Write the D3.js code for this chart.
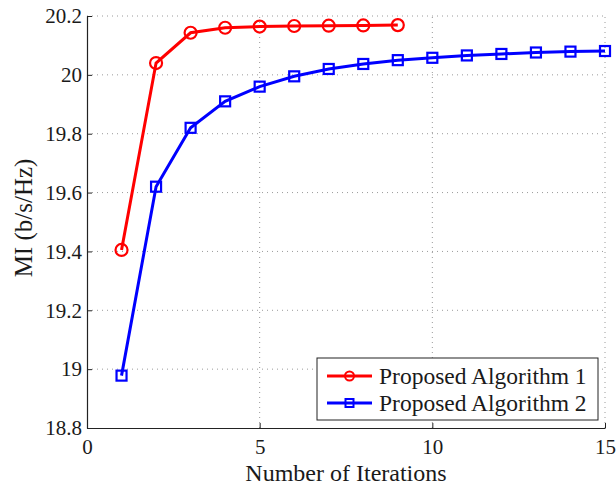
<!DOCTYPE html>
<html>
<head>
<meta charset="utf-8">
<script src="https://cdn.jsdelivr.net/npm/d3@7"></script>
<style>
  html, body { margin: 0; padding: 0; background: #fff; }
  svg { display: block; }
  text { font-family: "Liberation Serif", "Times New Roman", serif; fill: #1a1a1a; }
</style>
</head>
<body>
<svg id="chart" width="616" height="487"></svg>
<script>
// Mutual information per iteration for the two proposed algorithms
const iterations1 = [1, 2, 3, 4, 5, 6, 7, 8, 9];
const algorithm1 = [19.405, 20.04, 20.143, 20.16, 20.164, 20.166, 20.167, 20.168, 20.169];

const iterations2 = [1, 2, 3, 4, 5, 6, 7, 8, 9, 10, 11, 12, 13, 14, 15];
const algorithm2 = [18.978, 19.62, 19.82, 19.91, 19.96, 19.995, 20.02, 20.037, 20.05,
                    20.058, 20.066, 20.071, 20.076, 20.079, 20.081];

const xTicks = [0, 5, 10, 15];
const yTicks = [18.8, 19, 19.2, 19.4, 19.6, 19.8, 20, 20.2];
const seriesNames = ["Proposed Algorithm 1", "Proposed Algorithm 2"];
const seriesColors = ["#ff0000", "#0000ff"];

const svg = d3.select("#chart");
const margin = { left: 87, right: 11, top: 16, bottom: 59 };
const W = 616, H = 487;

const x = d3.scaleLinear().domain([0, 15]).range([margin.left, W - margin.right]);
const y = d3.scaleLinear().domain([18.8, 20.2]).range([H - margin.bottom, margin.top]);

// dotted grid
const grid = svg.append("g").attr("stroke", "#9a9a9a").attr("stroke-width", 1)
  .attr("stroke-dasharray", "1,4");
grid.selectAll(".gx").data(xTicks.filter(d => d > 0)).join("line")
  .attr("x1", d => x(d)).attr("x2", d => x(d))
  .attr("y1", y(18.8)).attr("y2", y(20.2));
grid.selectAll(".gy").data(yTicks.filter(d => d > 18.8)).join("line")
  .attr("x1", x(0)).attr("x2", x(15))
  .attr("y1", d => y(d)).attr("y2", d => y(d));

// axes
const xAxis = d3.axisBottom(x).tickValues(xTicks).tickFormat(d3.format("d"))
  .tickSizeInner(-5).tickSizeOuter(0).tickPadding(11);
const yAxis = d3.axisLeft(y).tickValues(yTicks).tickFormat(d => +d.toFixed(1))
  .tickSizeInner(-5).tickSizeOuter(0).tickPadding(5);

const gx = svg.append("g").attr("transform", `translate(0,${y(18.8)})`).call(xAxis);
const gy = svg.append("g").attr("transform", `translate(${x(0)},0)`).call(yAxis);
[gx, gy].forEach(g => {
  g.select(".domain").attr("stroke", "#222").attr("stroke-width", 1.2);
  g.selectAll(".tick line").attr("stroke", "#222");
  g.selectAll(".tick text").attr("font-size", 21).attr("fill", "#1a1a1a")
    .attr("font-family", "Liberation Serif, Times New Roman, serif");
});
gx.selectAll(".tick text").attr("dy", "0.71em");

// axis titles
svg.append("text").attr("x", (x(0) + x(15)) / 2).attr("y", 481)
  .attr("text-anchor", "middle").attr("font-size", 24).text("Number of Iterations");
svg.append("text").attr("transform", `translate(32,218) rotate(-90)`)
  .attr("text-anchor", "middle").attr("font-size", 25).text("MI (b/s/Hz)");

const line = d3.line().x(d => x(d[0])).y(d => y(d[1]));

// series 2 (squares)
const s2 = d3.zip(iterations2, algorithm2);
svg.append("path").datum(s2).attr("d", line).attr("fill", "none")
  .attr("stroke", seriesColors[1]).attr("stroke-width", 3);
svg.selectAll(".sq").data(s2).join("rect")
  .attr("x", d => x(d[0]) - 5).attr("y", d => y(d[1]) - 5)
  .attr("width", 10).attr("height", 10)
  .attr("fill", "none").attr("stroke", seriesColors[1]).attr("stroke-width", 2.2);

// series 1 (circles)
const s1 = d3.zip(iterations1, algorithm1);
svg.append("path").datum(s1).attr("d", line).attr("fill", "none")
  .attr("stroke", seriesColors[0]).attr("stroke-width", 3);
svg.selectAll(".ci").data(s1).join("circle")
  .attr("cx", d => x(d[0])).attr("cy", d => y(d[1])).attr("r", 6)
  .attr("fill", "none").attr("stroke", seriesColors[0]).attr("stroke-width", 2.2);

// legend
const lg = svg.append("g").attr("transform", "translate(317,358)");
lg.append("rect").attr("width", 281).attr("height", 62)
  .attr("fill", "#fff").attr("stroke", "#222").attr("stroke-width", 1);
seriesNames.forEach((name, i) => {
  const cy = 18 + i * 27;
  lg.append("line").attr("x1", 10).attr("x2", 55).attr("y1", cy).attr("y2", cy)
    .attr("stroke", seriesColors[i]).attr("stroke-width", 3);
  if (i === 0) {
    lg.append("circle").attr("cx", 32.5).attr("cy", cy).attr("r", 4.5)
      .attr("fill", "none").attr("stroke", seriesColors[i]).attr("stroke-width", 2);
  } else {
    lg.append("rect").attr("x", 28.5).attr("y", cy - 4).attr("width", 8).attr("height", 8)
      .attr("fill", "none").attr("stroke", seriesColors[i]).attr("stroke-width", 2);
  }
  lg.append("text").attr("x", 62).attr("y", cy).attr("dy", "0.35em")
    .attr("font-size", 23.5).text(name);
});
</script>
</body>
</html>
